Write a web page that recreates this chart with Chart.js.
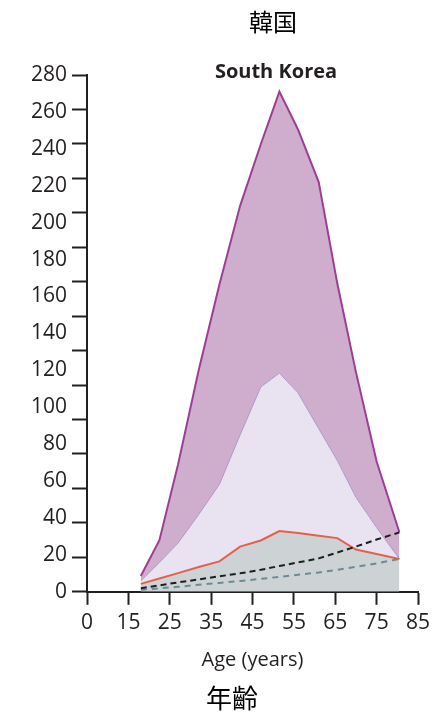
<!DOCTYPE html>
<html>
<head>
<meta charset="utf-8">
<script src="https://cdn.jsdelivr.net/npm/chart.js@4.4.1/dist/chart.umd.min.js"></script>
<style>
  html,body{margin:0;padding:0;background:#fff;}
  #wrap{width:444px;height:713px;}
</style>
</head>
<body>
<div id="wrap"><canvas id="c" width="444" height="713"></canvas></div>
<script>
// data
const ages       = [18, 22.5, 27, 32, 37, 42, 47, 51.5, 56, 61, 65.5, 70, 75, 80.5];
const upperBound = [8.6, 28.0, 69.0, 120.2, 166.5, 209.1, 242.5, 271.0, 250.5, 222.0, 167.0, 119.0, 70.6, 32.3];
const midBound   = [5.9, 15.9, 26.4, 41.9, 58.2, 85.0, 111.0, 118.5, 107.8, 88.4, 71.1, 51.2, 34.8, 17.8];
const redLine    = [4.3, 7.2, 10.1, 13.4, 16.5, 24.5, 27.8, 32.9, 31.8, 30.4, 29.1, 22.9, 20.5, 17.8];
const blackDash  = [1.9, 3.5, 5.1, 6.7, 8.4, 10.0, 11.9, 14.0, 15.9, 18.1, 21.3, 24.5, 28.3, 32.2];
const grayDash   = [1.1, 1.9, 2.7, 3.8, 4.8, 5.9, 7.0, 8.1, 9.2, 10.5, 11.9, 13.5, 15.4, 17.8];

// axis labels (first x tick is labelled 0 in the picture)
const xTicks  = [5, 15, 25, 35, 45, 55, 65, 75, 85];
const xLabels = ["0", "15", "25", "35", "45", "55", "65", "75", "85"];
const yLabels = [0,20,40,60,80,100,120,140,160,180,200,220,240,260,280];
const yMarks  = 15; // tick marks split 0..280 into 15 steps

const pts = (arr)=> ages.map((a,i)=>({x:a, y:arr[i]}));
const near = (a,b)=> Math.abs(a-b) < 0.01;

const markVals = [];
for (let k=0;k<=yMarks;k++) markVals.push(280*k/yMarks);
const yAll = [...yLabels];
markVals.forEach(v=>{ if(!yAll.some(u=>near(u,v))) yAll.push(v); });
yAll.sort((a,b)=>a-b);

const INK = "#231f20";
const FONT = "'Open Sans', sans-serif";

const textPlugin = {
  id: "texts",
  afterDraw(chart){
    const ctx = chart.ctx;
    ctx.save();
    ctx.fillStyle = "#000";
    ctx.textAlign = "center";
    ctx.textBaseline = "middle";
    ctx.font = "24px 'Noto Sans CJK JP'";
    ctx.fillText("韓国", 273, 22);
    ctx.font = "26px 'Noto Sans CJK JP'";
    ctx.fillText("年齡", 232, 698);
    ctx.fillStyle = INK;
    ctx.font = "bold 20px " + FONT;
    ctx.fillText("South Korea", 276, 72);
    ctx.restore();
  }
};

new Chart(document.getElementById("c"), {
  type: "line",
  data: {
    datasets: [
      { data: pts(blackDash), borderColor:"#1e1e1e", borderWidth:2, borderDash:[6,4], fill:false },
      { data: pts(grayDash),  borderColor:"#6b8a94", borderWidth:2, borderDash:[6,5], fill:false },
      { data: pts(redLine),   borderColor:"#e4604e", borderWidth:2, fill:"origin", backgroundColor:"#cdd3d5" },
      { data: pts(midBound),  borderColor:"#ad96cb", borderWidth:1, fill:2, backgroundColor:"#e9e2f1" },
      { data: pts(upperBound),borderColor:"#9c3e96", borderWidth:2, fill:3, backgroundColor:"#cfaecd" }
    ]
  },
  options: {
    responsive:false,
    animation:false,
    layout:{ padding:{ top:75, left:26, right:26, bottom:41 } },
    elements:{ point:{ radius:0 }, line:{ tension:0 } },
    plugins:{ legend:{display:false}, tooltip:{enabled:false}, title:{display:false} },
    scales:{
      x:{
        type:"linear", min:5, max:85,
        afterBuildTicks:(s)=>{ s.ticks = xTicks.map(v=>({value:v})); },
        ticks:{ autoSkip:false, maxRotation:0, padding:6, color:INK, font:{family:FONT, size:21},
          callback:(v)=> xLabels[xTicks.indexOf(v)] ?? "" },
        grid:{ drawOnChartArea:false, drawTicks:true, tickLength:13, tickColor:INK, tickWidth:2 },
        border:{ display:true, color:INK, width:2 },
        title:{ display:true, text:"Age (years)", color:INK, font:{family:FONT, size:20}, padding:{top:6, bottom:0} }
      },
      y:{
        type:"linear", min:0, max:280,
        afterBuildTicks:(s)=>{ s.ticks = yAll.map(v=>({value:v})); },
        ticks:{ autoSkip:false, padding:5, color:INK, font:{family:FONT, size:21},
          callback:(v)=> yLabels.some(u=>near(u,v)) ? String(Math.round(v)) : "" },
        grid:{ drawOnChartArea:false, drawTicks:true, tickLength:15, tickWidth:2,
          tickColor:(ctx)=> markVals.some(u=>near(u, ctx.tick ? ctx.tick.value : -1)) ? INK : "rgba(0,0,0,0)" },
        border:{ display:true, color:INK, width:2 }
      }
    }
  },
  plugins:[textPlugin]
});
</script>
</body>
</html>
